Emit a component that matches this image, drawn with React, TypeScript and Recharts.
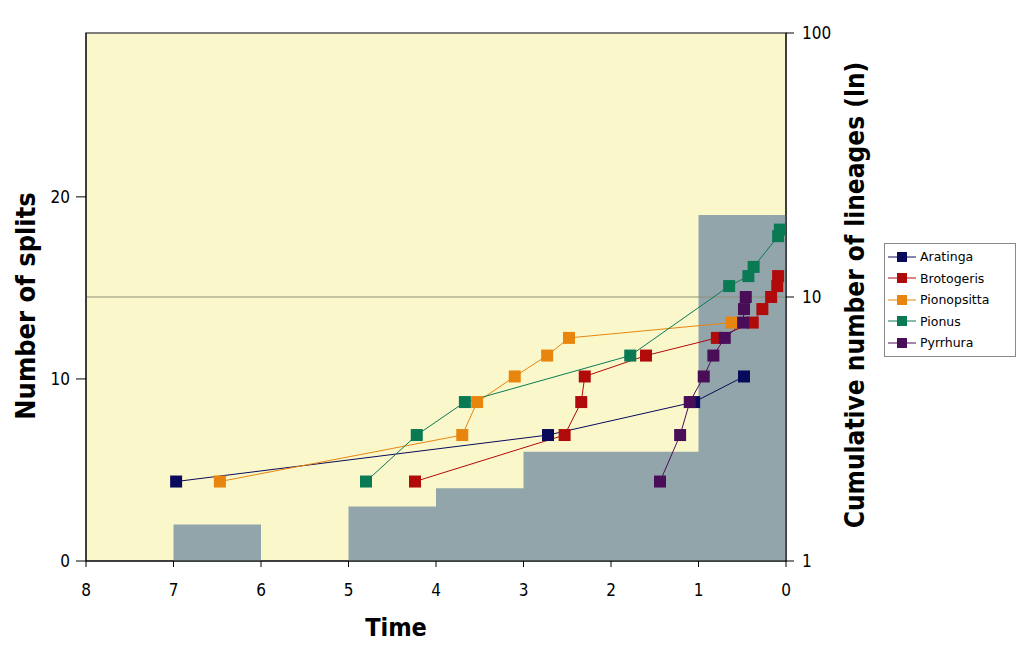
import React from "react"
import {
  ComposedChart,
  Area,
  Line,
  XAxis,
  YAxis,
  CartesianGrid,
  ReferenceLine,
  ReferenceArea,
  Label,
} from "recharts"

// histogram of splits per million-year bin
const histTime = [8, 7, 6, 5, 4, 3, 2, 1, 0]
const histSplits = [0, 2, 0, 3, 4, 6, 6, 19, 19]

// cumulative lineages through time
const aratingaTime = [6.97, 2.72, 1.05, 0.48]
const aratingaN = [2, 3, 4, 5]
const brotogerisTime = [4.24, 2.53, 2.34, 2.3, 1.6, 0.79, 0.38, 0.27, 0.17, 0.1, 0.09]
const brotogerisN = [2, 3, 4, 5, 6, 7, 8, 9, 10, 11, 12]
const pionopsittaTime = [6.47, 3.7, 3.53, 3.1, 2.73, 2.48, 0.62]
const pionopsittaN = [2, 3, 4, 5, 6, 7, 8]
const pionusTime = [4.8, 4.22, 3.67, 1.78, 0.65, 0.43, 0.37, 0.09, 0.07]
const pionusN = [2, 3, 4, 6, 11, 12, 13, 17, 18]
const pyrrhuraTime = [1.44, 1.21, 1.1, 0.94, 0.83, 0.7, 0.49, 0.48, 0.46]
const pyrrhuraN = [2, 3, 4, 5, 6, 7, 8, 9, 10]

const timeTicks = [8, 7, 6, 5, 4, 3, 2, 1, 0]
const splitTicks = [0, 10, 20]
const lineageTicks = [1, 10, 100]

const series = [
  { name: "Aratinga", color: "#0A0A5C", t: aratingaTime, n: aratingaN },
  { name: "Brotogeris", color: "#B00A0A", t: brotogerisTime, n: brotogerisN },
  { name: "Pionopsitta", color: "#E8850F", t: pionopsittaTime, n: pionopsittaN },
  { name: "Pionus", color: "#0A7A55", t: pionusTime, n: pionusN },
  { name: "Pyrrhura", color: "#4A0E58", t: pyrrhuraTime, n: pyrrhuraN },
]

const histData = histTime.map((t, i) => ({ t, splits: histSplits[i] }))

const fontStack = "'DejaVu Sans Condensed', 'DejaVu Sans', sans-serif"
const tickFont = { fontFamily: fontStack, fontSize: 17, fill: "#000" }
const titleFont = { fontFamily: fontStack, fontSize: 26, fontWeight: "bold", fill: "#000" }

const squareDot = (color: string) => (props: any) => {
  const { cx, cy, index } = props
  if (cx == null || cy == null) return <g key={index} />
  return <rect key={index} x={cx - 6} y={cy - 6} width={12} height={12} fill={color} />
}

// vertical axis title, centred a bit below the axis middle
const SideTitle = (text: string, offsetX: number, shiftY: number, size: number) => (props: any) => {
  const vb = props.viewBox || {}
  const x = vb.x + offsetX
  const y = vb.y + vb.height / 2 + shiftY
  return (
    <text
      x={x}
      y={y}
      transform={`rotate(-90 ${x} ${y})`}
      textAnchor="middle"
      dominantBaseline="central"
      fontFamily={fontStack}
      fontSize={size}
      fontWeight="bold"
      fill="#000"
    >
      {text}
    </text>
  )
}

const LegendBox = () => (
  <div
    style={{
      position: "absolute",
      left: 884,
      top: 243,
      border: "1px solid #8a8a8a",
      background: "#fff",
      width: 130,
      padding: "2px 0",
      fontFamily: "'DejaVu Sans', sans-serif",
      fontSize: 12.5,
    }}
  >
    {series.map((s) => (
      <div key={s.name} style={{ display: "flex", alignItems: "center", height: 21.5 }}>
        <svg width={32} height={12} style={{ marginLeft: 3 }}>
          <line x1={0} y1={6} x2={28} y2={6} stroke={s.color} strokeWidth={1} />
          <rect x={9} y={1} width={10} height={10} fill={s.color} />
        </svg>
        <span style={{ color: "#000" }}>{s.name}</span>
      </div>
    ))}
  </div>
)

export default function App() {
  return (
    <div style={{ position: "absolute", left: 0, top: 0, width: 1023, height: 659, background: "#fff" }}>
      <ComposedChart width={1023} height={659} margin={{ top: 33, right: 157, bottom: 0, left: 6 }}>
        <CartesianGrid horizontal={false} vertical={false} fill="#FAF8CA" yAxisId="left" />
        <XAxis
          type="number"
          dataKey="t"
          domain={[0, 8]}
          ticks={timeTicks}
          reversed
          allowDataOverflow
          height={98}
          tickSize={6}
          tickMargin={17}
          tick={tickFont}
          stroke="#000"
          label={{ value: "Time", position: "insideTop", offset: 57, dx: -40, style: { ...titleFont, fontSize: 25 } }}
        />
        <YAxis
          yAxisId="left"
          orientation="left"
          domain={[0, 29]}
          ticks={splitTicks}
          allowDataOverflow
          width={80}
          tickSize={10}
          tickMargin={6}
          tick={tickFont}
          stroke="#000"
        >
          <Label content={SideTitle("Number of splits", 19, 9, 27)} />
        </YAxis>
        <YAxis
          yAxisId="right"
          orientation="right"
          scale="log"
          domain={[1, 100]}
          ticks={lineageTicks}
          allowDataOverflow
          width={80}
          tickSize={8}
          tickMargin={8}
          tick={tickFont}
          stroke="#000"
        >
          <Label content={SideTitle("Cumulative number of lineages (ln)", 69, -2, 26)} />
        </YAxis>
        <ReferenceArea
          yAxisId="left"
          x1={8}
          x2={0}
          y1={0}
          y2={29}
          fill="none"
          stroke="#555"
          strokeWidth={1.5}
        />
        <Area
          yAxisId="left"
          data={histData}
          dataKey="splits"
          type="stepAfter"
          fill="#92A5AB"
          fillOpacity={1}
          stroke="none"
          isAnimationActive={false}
          legendType="none"
        />
        <ReferenceLine yAxisId="right" y={10} stroke="#8f8f78" strokeWidth={1} />
        {series.map((s) => (
          <Line
            key={s.name}
            yAxisId="right"
            name={s.name}
            data={s.t.map((t, i) => ({ t, n: s.n[i] }))}
            dataKey="n"
            type="linear"
            stroke={s.color}
            strokeWidth={1}
            dot={squareDot(s.color)}
            activeDot={false}
            isAnimationActive={false}
          />
        ))}
      </ComposedChart>
      <LegendBox />
    </div>
  )
}
